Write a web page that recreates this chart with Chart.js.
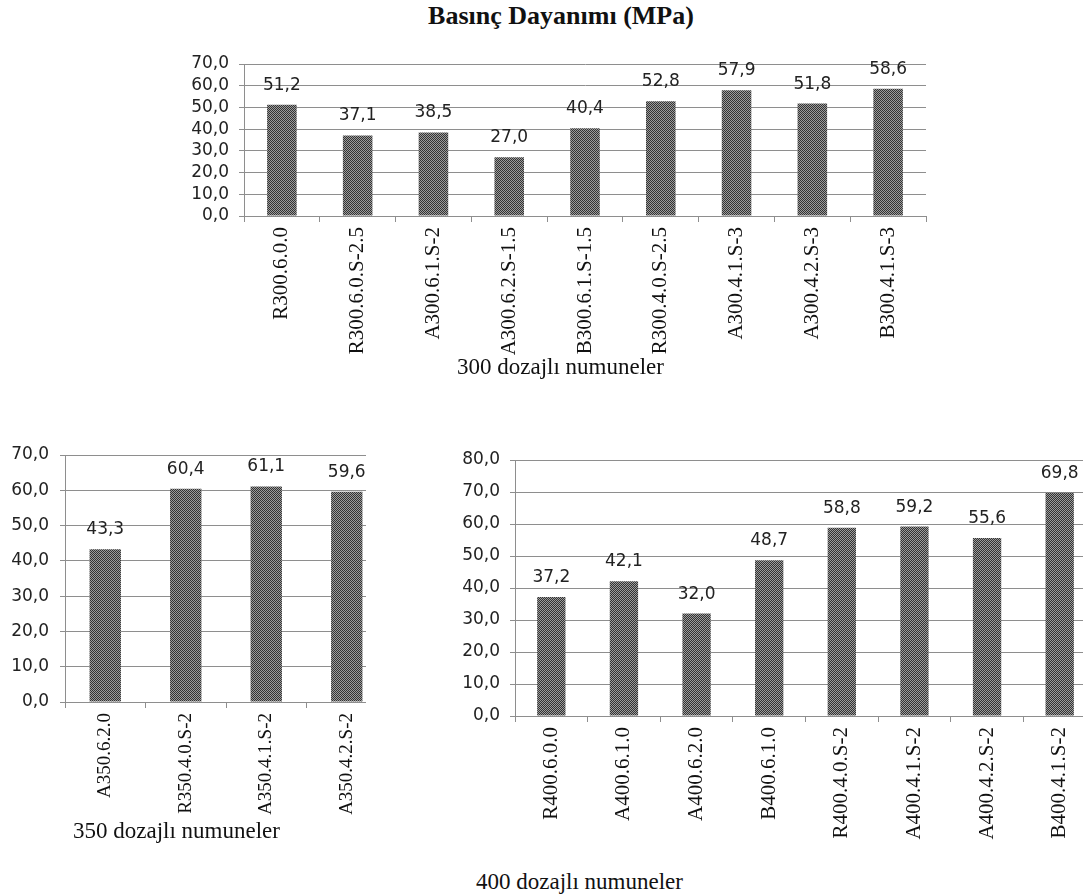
<!DOCTYPE html>
<html lang="tr">
<head>
<meta charset="utf-8">
<title>Basınç Dayanımı (MPa)</title>
<script src="https://cdn.jsdelivr.net/npm/chart.js@4/dist/chart.umd.min.js"></script>
<style>
  html, body { margin: 0; padding: 0; background: #fff; width: 1083px; height: 896px; overflow: hidden; position: relative; }
  .cap { position: absolute; font-family: "Liberation Serif", "Times New Roman", serif; color: #111; white-space: nowrap; }
  #title { left: 0; width: 1122px; top: 1px; text-align: center; font-weight: bold; font-size: 26px; }
  #cap300 { left: 457px; top: 354px; font-size: 23px; }
  #cap350 { left: 73px; top: 818px; font-size: 23px; }
  #cap400 { left: 476px; top: 869px; font-size: 23px; }
  .box { position: absolute; overflow: hidden; }
  canvas { display: block; }
</style>
</head>
<body>
<div id="title" class="cap">Basınç Dayanımı (MPa)</div>

<div class="box" style="left:150px; top:40px; width:790px; height:320px;"><canvas id="c300" width="790" height="320"></canvas></div>
<div class="cap" id="cap300">300 dozajlı numuneler</div>

<div class="box" style="left:0px; top:430px; width:366px; height:395px;"><canvas id="c350" width="400" height="395"></canvas></div>
<div class="cap" id="cap350">350 dozajlı numuneler</div>

<div class="box" style="left:420px; top:435px; width:663px; height:420px;"><canvas id="c400" width="690" height="420"></canvas></div>
<div class="cap" id="cap400">400 dozajlı numuneler</div>

<script>
// Samples and compressive strength values (MPa) per cement dosage
const labels300 = ['R300.6.0.0', 'R300.6.0.S-2.5', 'A300.6.1.S-2', 'A300.6.2.S-1.5', 'B300.6.1.S-1.5',
                   'R300.4.0.S-2.5', 'A300.4.1.S-3', 'A300.4.2.S-3', 'B300.4.1.S-3'];
const values300 = [51.2, 37.1, 38.5, 27.0, 40.4, 52.8, 57.9, 51.8, 58.6];

const labels350 = ['A350.6.2.0', 'R350.4.0.S-2', 'A350.4.1.S-2', 'A350.4.2.S-2'];
const values350 = [43.3, 60.4, 61.1, 59.6];

const labels400 = ['R400.6.0.0', 'A400.6.1.0', 'A400.6.2.0', 'B400.6.1.0',
                   'R400.4.0.S-2', 'A400.4.1.S-2', 'A400.4.2.S-2', 'B400.4.1.S-2'];
const values400 = [37.2, 42.1, 32.0, 48.7, 58.8, 59.2, 55.6, 69.8];

// y-axis ranges
const yMax300 = 70, yMax350 = 70, yMax400 = 80, yStep = 10;

const fmt = v => v.toFixed(1).replace('.', ',');

// dithered dark-grey fill for the bars
function makePattern() {
  const p = document.createElement('canvas');
  p.width = 2; p.height = 2;
  const g = p.getContext('2d');
  g.fillStyle = '#9c9c9c'; g.fillRect(0, 0, 2, 2);
  g.fillStyle = '#333333'; g.fillRect(0, 0, 1, 1); g.fillRect(1, 1, 1, 1);
  return g.createPattern(p, 'repeat');
}

// writes each bar's value above it
const valueLabels = {
  id: 'valueLabels',
  afterDatasetsDraw(chart) {
    const ctx = chart.ctx;
    ctx.save();
    ctx.font = '17px "DejaVu Sans", Verdana, sans-serif';
    ctx.fillStyle = '#222';
    ctx.textAlign = 'center';
    ctx.textBaseline = 'alphabetic';
    chart.getDatasetMeta(0).data.forEach((bar, i) => {
      const v = chart.data.datasets[0].data[i];
      ctx.fillText(fmt(v), bar.x, bar.y - 15);
    });
    ctx.restore();
  }
};

const AXIS = '#8e8e8e';

function makeChart(id, labels, values, yMax, yWidth, xHeight, pad, yPad, xFont) {
  return new Chart(document.getElementById(id), {
    type: 'bar',
    data: {
      labels: labels,
      datasets: [{
        data: values,
        backgroundColor: makePattern(),
        borderWidth: 0,
        categoryPercentage: 1.0,
        barPercentage: 0.39
      }]
    },
    options: {
      responsive: false,
      animation: false,
      devicePixelRatio: 1,
      layout: { padding: pad },
      plugins: { legend: { display: false }, tooltip: { enabled: false } },
      scales: {
        x: {
          grid: { drawOnChartArea: false, drawTicks: true, tickLength: 6, color: AXIS, offset: true },
          border: { display: true, color: AXIS, width: 1 },
          ticks: {
            minRotation: 90, maxRotation: 90, autoSkip: false, padding: 5,
            color: '#111',
            font: { family: '"Liberation Serif", "Times New Roman", serif', size: xFont }
          },
          afterFit(s) { s.height = xHeight; }
        },
        y: {
          min: 0, max: yMax,
          grid: { color: AXIS, lineWidth: 1, tickLength: 5 },
          border: { display: true, color: AXIS, width: 1 },
          ticks: {
            stepSize: yStep, autoSkip: false, padding: yPad, color: '#222',
            font: { family: '"DejaVu Sans", Verdana, sans-serif', size: 17 },
            callback: v => fmt(v)
          },
          afterFit(s) { s.width = yWidth; }
        }
      }
    },
    plugins: [valueLabels]
  });
}

makeChart('c300', labels300, values300, yMax300, 94, 144, { top: 24, right: 14, left: 0, bottom: 0 }, 10, 21);
makeChart('c350', labels350, values350, yMax350, 65, 123, { top: 25, right: 13, left: 0, bottom: 0 }, 11, 19);
makeChart('c400', labels400, values400, yMax400, 95, 139, { top: 25, right: 14, left: 0, bottom: 0 }, 10, 21);
</script>
</body>
</html>
